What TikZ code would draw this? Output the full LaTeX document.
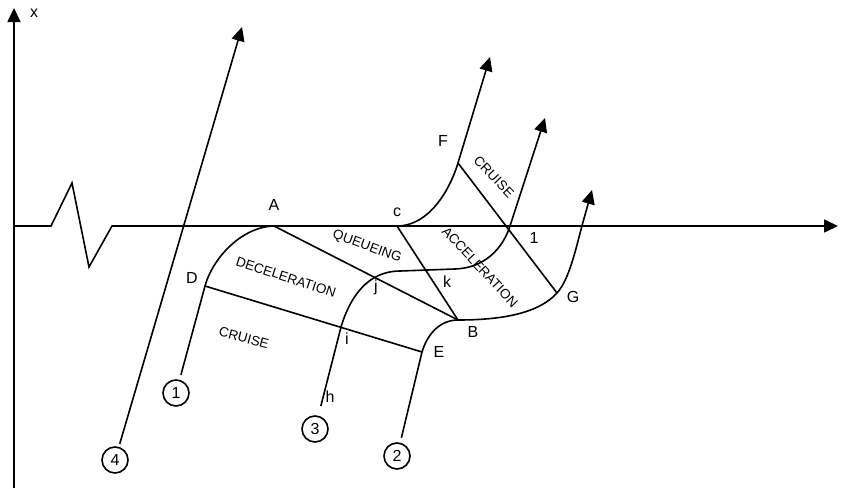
\documentclass[tikz,border=0pt]{standalone}
\usepackage{fontspec}
\setmainfont{Liberation Sans}
\usetikzlibrary{arrows.meta}
\begin{document}
\begin{tikzpicture}[x=1pt,y=-1pt,
  ln/.style={line width=1.6pt},
  arr/.style={ln,-{Triangle[length=14pt,width=13pt]}},
  lbl/.style={font=\fontsize{16}{18}\selectfont, inner sep=0pt},
  zone/.style={font=\fontsize{13.5}{15}\selectfont, inner sep=0pt},
  veh/.style={circle, draw, line width=1.6pt, minimum size=26pt, inner sep=0pt, font=\fontsize{16}{18}\selectfont}]
\useasboundingbox (0,0) rectangle (846,488);
% axes
\coordinate (o) at (14,488);
\coordinate (ytip) at (14,8);
\coordinate (h0) at (14,226);
\coordinate (z1) at (51,226);
\coordinate (z2) at (72,183);
\coordinate (z3) at (89,267);
\coordinate (z4) at (112,226);
\coordinate (htip) at (838,226);
\draw[arr] (o) -- (ytip);
\draw[arr] (h0) -- (z1) -- (z2) -- (z3) -- (z4) -- (htip);
\node[lbl] (xl) at (34,13) {x};
% key points
\coordinate (A) at (274,226);
\coordinate (B) at (458,320);
\coordinate (c) at (397,226);
\coordinate (D) at (205,286);
\coordinate (E) at (422,352);
\coordinate (F) at (458,163);
\coordinate (G) at (557,293);
\coordinate (i) at (341,327);
\coordinate (q3a) at (400,271);
\coordinate (q3b) at (455,269);
\coordinate (x3) at (510,226);
\coordinate (x2) at (585,215);
\coordinate (t1) at (490,57);
\coordinate (t2) at (592,190);
\coordinate (t3) at (545,118);
\coordinate (t4) at (242,27);
% vehicles
\node[veh] (n1) at (176,393) {1};
\node[veh] (n2) at (397,456) {2};
\node[veh] (n3) at (315,429) {3};
\node[veh] (n4) at (115,460) {4};
% boundaries
\draw[ln] (A) -- (B);
\draw[ln] (D) -- (E);
\draw[ln] (c) -- (B);
\draw[ln] (F) -- (G);
% trajectories
\draw[arr, shorten <=3pt] (n4) -- (t4);
\draw[arr, shorten <=5pt] (n1) -- (D) .. controls (212,260) and (240,227) .. (A) -- (c)
   .. controls (430,226) and (450.5,188) .. (F) -- (t1);
\draw[arr, shorten <=10pt] (n3) -- (i) .. controls (353,287) and (375,271) .. (q3a) -- (q3b)
   .. controls (485,268) and (503,248) .. (x3) -- (t3);
\draw[arr, shorten <=5pt] (n2) -- (E) .. controls (427.4,334) and (440,320) .. (B)
   .. controls (510,320) and (541,310.6) .. (G)
   .. controls (571,277.6) and (577.5,240) .. (x2) -- (t2);
% labels
\node[lbl] (lA) at (274,205) {A};
\node[lbl] (lc) at (397,212) {c};
\node[lbl] (lD) at (192,278) {D};
\node[lbl] (lj) at (376,287) {j};
\node[lbl] (lk) at (447,282) {k};
\node[lbl] (li) at (347,339) {i};
\node[lbl] (lE) at (439,352) {E};
\node[lbl] (lB) at (473,332) {B};
\node[lbl] (lG) at (573,297) {G};
\node[lbl] (l1) at (534,238) {1};
\node[lbl] (lF) at (443,141) {F};
\node[lbl] (lh) at (330,397) {h};
% zones
\node[zone, rotate=-20] (zq) at (367,247) {QUEUEING};
\node[zone, rotate=-18] (zd) at (286,277) {DECELERATION};
\node[zone, rotate=-15] (zc1) at (244,338) {CRUISE};
\node[zone, rotate=-47] (za) at (480,267) {ACCELERATION};
\node[zone, rotate=-46] (zc2) at (494,177) {CRUISE};
\end{tikzpicture}
\end{document}
